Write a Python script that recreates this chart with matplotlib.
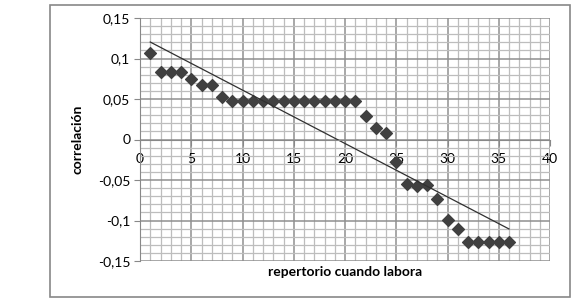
import numpy as np
import matplotlib
matplotlib.use("Agg")
import matplotlib.pyplot as plt
from matplotlib.patches import Rectangle
from matplotlib.ticker import MultipleLocator

# data
repertorio = np.arange(1, 37)
correlacion = [0.107, 0.083, 0.083, 0.083, 0.075, 0.067, 0.067, 0.052, 0.048,
               0.048, 0.048, 0.048, 0.048, 0.048, 0.048, 0.048, 0.048, 0.048,
               0.048, 0.048, 0.048, 0.029, 0.014, 0.008, -0.028, -0.055,
               -0.057, -0.056, -0.074, -0.099, -0.110, -0.127, -0.127, -0.127,
               -0.127, -0.127]
xticks = [0, 5, 10, 15, 20, 25, 30, 35, 40]
yticks = [-0.15, -0.1, -0.05, 0, 0.05, 0.1, 0.15]
ytick_labels = ["-0,15", "-0,1", "-0,05", "0", "0,05", "0,1", "0,15"]

plt.rcParams['font.family'] = ["Lato", "DejaVu Sans"]

fig = plt.figure(figsize=(5.77, 3.02), dpi=100)
fig.patches.append(Rectangle((50/577, 5/302), 520/577, 292/302, transform=fig.transFigure,
                             fill=False, edgecolor="#888888", linewidth=1.2))

ax = fig.add_axes([140/577, 1-261/302, 410/577, 243/302])
ax.set_xlim(0, 40)
ax.set_ylim(-0.15, 0.15)

ax.xaxis.set_major_locator(MultipleLocator(5))
ax.xaxis.set_minor_locator(MultipleLocator(1))
ax.set_yticks(yticks)
ax.set_yticklabels(ytick_labels)
ax.yaxis.set_minor_locator(MultipleLocator(0.01))
ax.set_xticks(xticks)
ax.set_xticklabels([str(t) for t in xticks])

ax.grid(which="major", color="#8f8f8f", linewidth=1.1)
ax.grid(which="minor", color="#bdbdbd", linewidth=0.9)
ax.set_axisbelow(True)

for s in ["top", "right"]:
    ax.spines[s].set_visible(False)
ax.spines["bottom"].set_position(("data", 0))
ax.spines["bottom"].set_color("#888888")
ax.spines["left"].set_color("#888888")
ax.tick_params(which="major", length=4, color="#888888", labelsize=10, pad=3)
ax.tick_params(which="minor", length=0)
ax.tick_params(axis="x", pad=6)

ax.scatter(repertorio, correlacion, marker="D", s=36, color="#404040", zorder=2)

# linear trend line
m, b = np.polyfit(repertorio, correlacion, 1)
xl = np.array([repertorio[0], repertorio[-1]])
ax.plot(xl, m * xl + b, color="#303030", linewidth=0.9, zorder=2)

fig.text(78/577, 1-139/302, "correlación", rotation=90, ha="center", va="center",
         fontsize=10, fontweight="bold")
fig.text(345/577, 1-272/302, "repertorio cuando labora", ha="center", va="center",
         fontsize=10, fontweight="bold")

fig.savefig("out.png", dpi=100)
